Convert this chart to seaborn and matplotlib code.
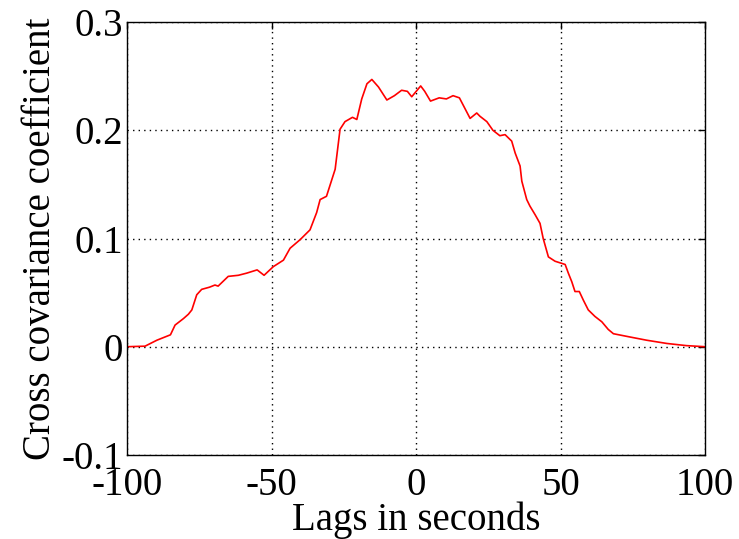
import matplotlib
matplotlib.use("Agg")
import matplotlib.pyplot as plt
import seaborn as sns
import pandas as pd

lags = [-100, -93.8, -89.7, -85, -83.4, -80.5, -78.8, -77.6, -75.9, -74.2, -71.5, -69.6, -68.5, -65,
        -61.5, -58.6, -55, -52.6, -49.4, -45.9, -43.6, -40.1, -36.7, -34.4, -33.2, -31, -28, -26.3,
        -24.6, -22, -20.5, -18.8, -17, -15.3, -13, -10.1, -7.5, -5, -3, -1.5, 1.6, 3, 5, 8, 10.5,
        12.8, 15, 18.7, 21, 22.1, 24.5, 26.6, 29, 30.8, 33.1, 34.3, 36, 36.6, 38.3, 39.4, 41.2,
        42.9, 44, 45.8, 48.1, 51.6, 52.7, 53.9, 55, 56.5, 57.9, 59.6, 61.9, 64.3, 66.5, 68.3, 74,
        79.8, 86.8, 93.6, 100]
coef = [0.0, 0.0005, 0.006, 0.011, 0.02, 0.026, 0.03, 0.034, 0.048, 0.053, 0.055, 0.057, 0.056, 0.065,
        0.066, 0.068, 0.071, 0.066, 0.074, 0.08, 0.091, 0.099, 0.108, 0.124, 0.136, 0.139, 0.164, 0.201,
        0.208, 0.212, 0.210, 0.229, 0.243, 0.247, 0.240, 0.228, 0.232, 0.237, 0.236, 0.231, 0.241, 0.236, 0.227,
        0.230, 0.229, 0.232, 0.230, 0.211, 0.216, 0.213, 0.208, 0.200, 0.195, 0.196, 0.190, 0.179, 0.167,
        0.153, 0.136, 0.130, 0.122, 0.114, 0.100, 0.083, 0.079, 0.076, 0.068, 0.060, 0.051, 0.051, 0.043,
        0.034, 0.028, 0.023, 0.016, 0.012, 0.009, 0.006, 0.003, 0.001, 0.0]

xticks = [-100, -50, 0, 50, 100]
yticks = [-0.1, 0, 0.1, 0.2, 0.3]
yticklabels = ["-0.1", "0", "0.1", "0.2", "0.3"]

sns.set_style("white")
plt.rcParams['font.family'] = ['Liberation Serif', 'DejaVu Serif']
plt.rcParams['text.color'] = 'black'
plt.rcParams['axes.labelcolor'] = 'black'

df = pd.DataFrame({"lag": lags, "coef": coef})

fig = plt.figure(figsize=(7.39, 5.39), dpi=100)
ax = fig.add_axes([0.172, 0.156, 0.782, 0.803])
sns.lineplot(data=df, x="lag", y="coef", color="#ff0000", linewidth=1.2, ax=ax)

ax.set_xlim(-100, 100)
ax.set_ylim(-0.1, 0.3)
ax.set_xticks(xticks)
ax.set_xticklabels([str(t) for t in xticks])
ax.set_yticks(yticks)
ax.set_yticklabels(yticklabels)
ax.grid(True, color="black", linestyle=(0, (1, 3)), linewidth=1.0)
ax.tick_params(direction="in", length=5, width=1, labelsize=28, top=True, right=True,
               colors="black", labelcolor="black")
ax.tick_params(axis="y", pad=3)
ax.tick_params(axis="x", pad=9)
for s in ax.spines.values():
    s.set_visible(True)
    s.set_color("black")
    s.set_linewidth(1.0)
ax.set_xlabel("Lags in seconds", fontsize=28, labelpad=-2, color="black")
ax.set_ylabel("Cross covariance coefficient", fontsize=28, labelpad=2, color="black")

fig.savefig("out.png", dpi=100, facecolor="white")
